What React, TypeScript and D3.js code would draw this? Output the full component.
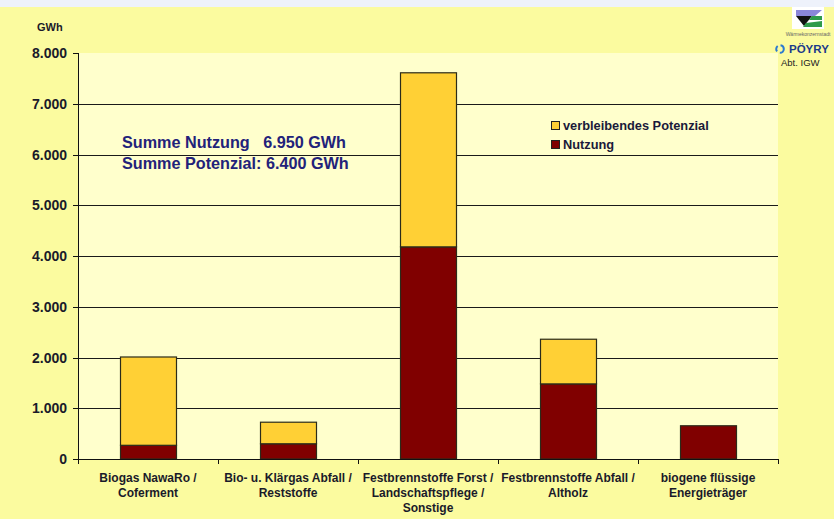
import React from "react";
import * as d3 from "d3";

// Energy use and remaining potential per biomass category (GWh)
const categories: string[][] = [
  ["Biogas NawaRo /", "Coferment"],
  ["Bio- u. Klärgas Abfall /", "Reststoffe"],
  ["Festbrennstoffe Forst /", "Landschaftspflege /", "Sonstige"],
  ["Festbrennstoffe Abfall /", "Altholz"],
  ["biogene flüssige", "Energieträger"],
];
const nutzung: number[] = [270, 300, 4180, 1480, 655];
const verbleibendesPotenzial: number[] = [1740, 425, 3430, 880, 0];
const yTicks: number[] = [0, 1000, 2000, 3000, 4000, 5000, 6000, 7000, 8000];
const seriesNames: string[] = ["verbleibendes Potenzial", "Nutzung"];
const summaryLines: string[] = ["Summe Nutzung   6.950 GWh", "Summe Potenzial: 6.400 GWh"];

const W = 834;
const H = 519;
const plot = { left: 78, right: 778, top: 53, bottom: 459 };
const FONT = "'Liberation Sans', Arial, sans-serif";
const COL_NUTZ = "#800000";
const COL_POT = "#ffd035";

const fmt = (v: number) => d3.format(",")(v).replace(/,/g, ".");

export default function App() {
  const x = d3
    .scaleBand<number>()
    .domain(categories.map((_, i) => i))
    .range([plot.left, plot.right])
    .paddingInner(0.6)
    .paddingOuter(0.3);
  const y = d3.scaleLinear().domain([0, 8000]).range([plot.bottom, plot.top]);

  const stacked = d3
    .stack<number>()
    .keys(["nutzung", "pot"])
    .value((i, key) => (key === "nutzung" ? nutzung[i] : verbleibendesPotenzial[i]))(
    categories.map((_, i) => i)
  );

  const step = (plot.right - plot.left) / categories.length;
  const boundaries = d3.range(categories.length + 1).map((i) => plot.left + i * step);

  return (
    <div style={{ position: "absolute", left: 0, top: 0 }}>
      <svg width={W} height={H} style={{ display: "block" }}>
        {/* backgrounds */}
        <rect x={0} y={0} width={W} height={H} fill="#fbfb9f" />
        <rect x={0} y={0} width={W} height={7} fill="#eef2fb" />
        <rect
          x={plot.left}
          y={plot.top}
          width={plot.right - plot.left}
          height={plot.bottom - plot.top}
          fill="#ffffcc"
        />

        {/* gridlines */}
        {yTicks
          .filter((t) => t > 0 && t < 8000)
          .map((t) => (
            <line
              key={t}
              x1={plot.left}
              x2={plot.right}
              y1={Math.round(y(t)) + 0.5}
              y2={Math.round(y(t)) + 0.5}
              stroke="#1a1a1a"
              strokeWidth={1}
            />
          ))}

        {/* bars */}
        {stacked.map((layer, li) =>
          layer.map((d, i) => {
            if (d[1] - d[0] <= 0) return null;
            const bx = x(i)!;
            return (
              <rect
                key={`${li}-${i}`}
                x={bx + 0.5}
                y={y(d[1])}
                width={x.bandwidth()}
                height={y(d[0]) - y(d[1])}
                fill={li === 0 ? COL_NUTZ : COL_POT}
                stroke="#2b2b1a"
                strokeWidth={1.2}
              />
            );
          })
        )}

        {/* y axis */}
        <line x1={plot.left + 0.5} x2={plot.left + 0.5} y1={plot.top} y2={plot.bottom} stroke="#111" />
        {yTicks.map((t) => (
          <g key={t}>
            <line
              x1={plot.left - 5}
              x2={plot.left}
              y1={Math.round(y(t)) + 0.5}
              y2={Math.round(y(t)) + 0.5}
              stroke="#111"
            />
            <text
              x={67}
              y={y(t) + 5}
              textAnchor="end"
              fontFamily={FONT}
              fontWeight="bold"
              fontSize={14}
              fill="#1a1a2a"
            >
              {fmt(t)}
            </text>
          </g>
        ))}
        <text x={37} y={31} fontFamily={FONT} fontWeight="bold" fontSize={11} fill="#1a1a2a">
          GWh
        </text>

        {/* x axis */}
        <line x1={plot.left} x2={plot.right} y1={plot.bottom + 0.5} y2={plot.bottom + 0.5} stroke="#111" />
        {boundaries.map((bx, i) => (
          <line key={i} x1={bx + 0.5} x2={bx + 0.5} y1={plot.bottom} y2={plot.bottom + 5} stroke="#111" />
        ))}
        {categories.map((lines, i) => (
          <text
            key={i}
            x={x(i)! + x.bandwidth() / 2}
            y={482}
            textAnchor="middle"
            fontFamily={FONT}
            fontWeight="bold"
            fontSize={12}
            fill="#1a1a2a"
          >
            {lines.map((ln, k) => (
              <tspan key={k} x={x(i)! + x.bandwidth() / 2} dy={k === 0 ? 0 : 15}>
                {ln}
              </tspan>
            ))}
          </text>
        ))}

        {/* legend */}
        {seriesNames.map((name, i) => (
          <g key={name} transform={`translate(551, ${121 + i * 19})`}>
            <rect x={0.5} y={0.5} width={8} height={8} fill={i === 0 ? COL_POT : COL_NUTZ} stroke="#222" />
            <text x={12} y={9} fontFamily={FONT} fontWeight="bold" fontSize={12.8} fill="#1a1a3a">
              {name}
            </text>
          </g>
        ))}

        {/* summary text */}
        {summaryLines.map((s, i) => (
          <text
            key={i}
            x={122}
            y={148 + i * 21}
            fontFamily={FONT}
            fontWeight="bold"
            fontSize={16.2}
            fill="#22227a"
            xmlSpace="preserve"
            style={{ whiteSpace: "pre" }}
          >
            {s}
          </text>
        ))}

        {/* logo block */}
        <g>
          <rect x={792} y={7} width={32} height={22} fill="#ffffff" />
          <polygon points="796,10 822,10 815,16 796,16" fill="#8a86d8" />
          <polygon points="796,16 812,16 804,26" fill="#111111" />
          <polygon points="812,16 822,16 822,20 809,20" fill="#2f9a4a" />
          <polygon points="806,23 822,21 822,27 803,27" fill="#2f9a4a" />
          <text x={808} y={36} textAnchor="middle" fontFamily={FONT} fontSize={5} fill="#666">
            Wärmekonzernstadt
          </text>
          <circle cx={780} cy={49} r={3.8} fill="none" stroke="#2a7ad0" strokeWidth={2} strokeDasharray="6 3" />
          <text x={789} y={53} fontFamily={FONT} fontWeight="bold" fontSize={11.5} fill="#1a3a8a">
            PÖYRY
          </text>
          <text x={781} y={65.5} fontFamily={FONT} fontSize={9.5} fill="#222">
            Abt. IGW
          </text>
        </g>
      </svg>
    </div>
  );
}
